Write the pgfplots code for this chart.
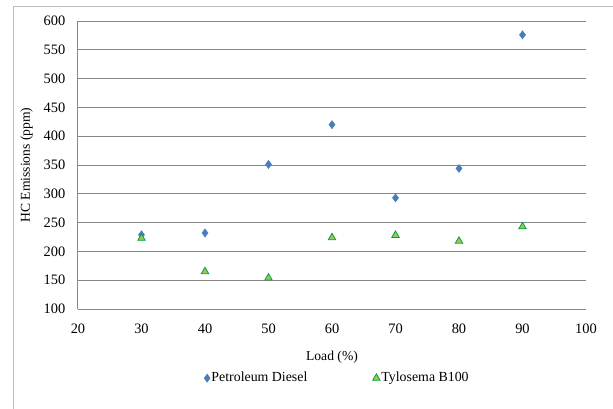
\documentclass[border=0pt]{standalone}
\usepackage{pgfplots}
\pgfplotsset{compat=1.18}
\usepackage{fontspec}
\setmainfont{Liberation Serif}
\definecolor{gridgray}{RGB}{134,134,134}
\definecolor{dblue}{RGB}{74,126,187}
\definecolor{tgreen}{RGB}{155,200,90}
\definecolor{tedge}{RGB}{0,160,60}
\definecolor{framegray}{RGB}{190,190,190}
\begin{document}
\begin{tikzpicture}
\useasboundingbox (0pt,0pt) rectangle (459.75pt,306pt);
\draw[framegray, line width=0.75pt] (9.75pt,-5pt) -- (9.75pt,300.75pt) -- (470pt,300.75pt);
\begin{axis}[
  at={(58.5pt,74.25pt)}, anchor=south west,
  scale only axis, width=381pt, height=216pt,
  xmin=20, xmax=100, ymin=100, ymax=600,
  xtick={20,30,...,100}, ytick={100,150,...,600},
  axis x line*=bottom, axis y line*=left,
  axis line style={gridgray, line width=0.75pt, -},
  ymajorgrids, grid style={gridgray, line width=0.75pt},
  major tick length=0pt,
  tick label style={font=\fontsize{10.8}{12}\selectfont},
  /pgf/number format/assume math mode=true,
  y tick label style={xshift=-6pt},
  x tick label style={yshift=-8pt},
  xlabel={Load (\%)}, ylabel={HC Emissions (ppm)},
  label style={font=\fontsize{10.2}{12}\selectfont},
  x label style={at={(axis description cs:0.5,-0.167)}, anchor=center},
  y label style={at={(axis description cs:-0.101,0.5)}, anchor=center},
  legend columns=2,
  legend style={draw=none, fill=none, at={(axis description cs:0.51,-0.24)}, anchor=center,
    font=\fontsize{10.4}{12}\selectfont, /tikz/every even column/.append style={column sep=48pt},
    inner sep=0pt, nodes={inner sep=1pt}},
  legend cell align=left,
  legend image code/.code={\draw[#1] plot coordinates {(0.1cm,0cm)};},
  clip=false,
]
\addplot[only marks, mark=diamond*, mark size=3pt, mark options={fill=dblue, draw=dblue}]
  coordinates {(30,229) (40,232) (50,351) (60,420) (70,293) (80,344) (90,576)};
\addlegendentry{Petroleum Diesel}
\addplot[only marks, mark=triangle*, mark size=3.2pt, mark options={fill=tgreen, draw=tedge, line width=0.6pt}]
  coordinates {(30,223) (40,165) (50,154) (60,224) (70,228) (80,218) (90,243)};
\addlegendentry{Tylosema B100}
\end{axis}
\end{tikzpicture}
\end{document}
